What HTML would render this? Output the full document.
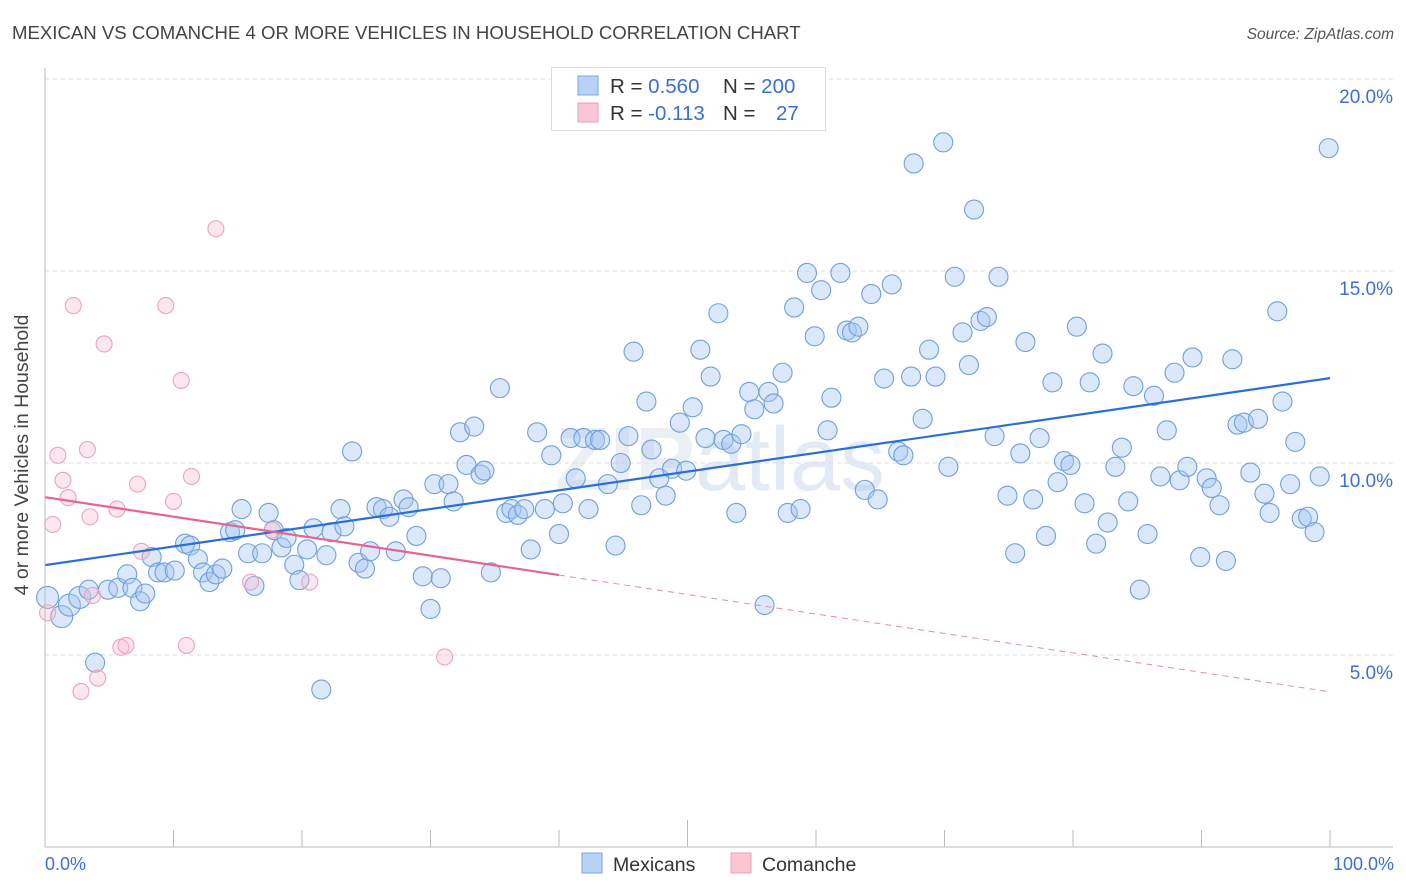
<!DOCTYPE html>
<html><head><meta charset="utf-8"><style>
body{margin:0;background:#fff;font-family:"Liberation Sans",sans-serif;}
#wrap{position:relative;width:1406px;height:892px;overflow:hidden;}
</style></head><body>
<div id="wrap">
<svg id="svg" width="1406" height="892" xmlns="http://www.w3.org/2000/svg">
<text x="12" y="39" font-size="18.6" fill="#444">MEXICAN VS COMANCHE 4 OR MORE VEHICLES IN HOUSEHOLD CORRELATION CHART</text>
<text x="1394" y="39" font-size="15.5" fill="#555" text-anchor="end" font-style="italic">Source: ZipAtlas.com</text>
<text x="720" y="490" font-size="90" fill="#eceff3" text-anchor="middle" font-weight="bold">ZIP<tspan font-weight="normal" fill="#e2eaf6">atlas</tspan></text>
<g id="grid"></g><g id="pts"></g><g id="lines"></g>
<line x1="45" y1="68" x2="45" y2="847" stroke="#bbb"/>
<line x1="45" y1="847" x2="1393" y2="847" stroke="#bbb"/>
<text x="28" y="455" font-size="19.5" fill="#444" text-anchor="middle" transform="rotate(-90 28 455)">4 or more Vehicles in Household</text>
<text x="45" y="870" font-size="18" fill="#3a70d4">0.0%</text>
<text x="1394" y="870" font-size="18" fill="#3a70d4" text-anchor="end">100.0%</text>
<g>
<rect x="551.5" y="67.5" width="274" height="63" fill="#fff" stroke="#ddd"/>
<rect x="578" y="76" width="20" height="19" fill="#b8d2f5" stroke="#7aa6e6"/>
<rect x="578" y="103" width="20" height="19" fill="#f9c6d4" stroke="#eba0b8"/>
<text x="610" y="93" font-size="20.5" fill="#333">R = <tspan fill="#3a70d4">0.560</tspan></text>
<text x="723" y="93" font-size="20.5" fill="#333">N = <tspan fill="#3a70d4">200</tspan></text>
<text x="610" y="120" font-size="20.5" fill="#333">R = <tspan fill="#3a70d4"> -0.113</tspan></text>
<text x="723" y="120" font-size="20.5" fill="#333">N = <tspan fill="#3a70d4" x="776">27</tspan></text>
</g>
<g>
<rect x="582" y="853" width="20" height="20" fill="#b8d2f5" stroke="#7aa6e6"/>
<text x="613" y="871" font-size="19.5" fill="#333">Mexicans</text>
<rect x="731" y="853" width="20" height="20" fill="#f9c6d4" stroke="#eba0b8"/>
<text x="762" y="871" font-size="19.5" fill="#333">Comanche</text>
</g>
</svg>
</div>
<script>
const blueX=[0.2,1.3,1.9,2.7,3.4,3.9,4.9,5.7,6.4,6.8,7.4,7.8,8.3,8.8,9.3,10.1,10.9,11.3,11.9,12.3,12.8,13.3,13.8,14.4,14.8,15.3,15.8,16.3,16.9,17.4,17.8,18.4,18.8,19.4,19.8,20.4,20.9,21.5,21.9,22.3,23.0,23.3,23.9,24.4,24.9,25.3,25.8,26.3,26.8,27.3,27.9,28.3,28.9,29.4,30.0,30.3,30.8,31.4,31.8,32.3,32.8,33.4,33.9,34.2,34.7,35.4,35.9,36.3,36.8,37.3,37.8,38.3,38.9,39.4,40.0,40.3,40.9,41.3,41.9,42.3,42.8,43.2,43.8,44.4,44.8,45.4,45.8,46.4,46.8,47.2,47.8,48.3,48.8,49.4,49.9,50.4,51.0,51.4,51.8,52.4,52.8,53.4,53.8,54.2,54.8,55.2,56.0,56.3,56.7,57.4,57.8,58.3,58.8,59.3,59.9,60.4,60.9,61.2,61.9,62.4,62.8,63.3,63.8,64.3,64.8,65.3,65.9,66.4,66.8,67.4,67.6,68.3,68.8,69.3,69.9,70.3,70.8,71.4,71.9,72.3,72.8,73.3,73.9,74.2,74.9,75.5,75.9,76.3,76.9,77.4,77.9,78.4,78.8,79.3,79.8,80.3,80.9,81.3,81.8,82.3,82.7,83.3,83.8,84.3,84.7,85.2,85.8,86.3,86.8,87.3,87.9,88.3,88.9,89.3,89.9,90.4,90.8,91.4,91.9,92.4,92.8,93.3,93.8,94.4,94.9,95.3,95.9,96.3,96.9,97.3,97.8,98.3,98.8,99.2,99.9];
const blueY=[6.5,6.0,6.3,6.5,6.7,4.8,6.7,6.75,7.1,6.75,6.4,6.6,7.55,7.15,7.15,7.2,7.9,7.85,7.5,7.15,6.9,7.1,7.25,8.2,8.25,8.8,7.65,6.8,7.65,8.7,8.25,7.8,8.05,7.35,6.95,7.75,8.3,4.1,7.6,8.2,8.8,8.35,10.3,7.4,7.25,7.7,8.85,8.8,8.6,7.7,9.05,8.85,8.1,7.05,6.2,9.45,7.0,9.45,9.0,10.8,9.95,10.95,9.7,9.8,7.15,11.95,8.7,8.8,8.65,8.8,7.75,10.8,8.8,10.2,8.15,8.95,10.65,9.6,10.65,8.8,10.6,10.6,9.45,7.85,10.0,10.7,12.9,8.9,11.6,10.35,9.6,9.15,9.85,11.05,9.8,11.45,12.95,10.65,12.25,13.9,10.6,10.5,8.7,10.75,11.85,11.4,6.3,11.85,11.55,12.35,8.7,14.05,8.8,14.95,13.3,14.5,10.85,11.7,14.95,13.45,13.4,13.55,9.3,14.4,9.05,12.2,14.65,10.3,10.2,12.25,17.8,11.15,12.95,12.25,18.35,9.9,14.85,13.4,12.55,16.6,13.7,13.8,10.7,14.85,9.15,7.65,10.25,13.15,9.05,10.65,8.1,12.1,9.5,10.05,9.95,13.55,8.95,12.1,7.9,12.85,8.45,9.9,10.4,9.0,12.0,6.7,8.15,11.75,9.65,10.85,12.35,9.55,9.9,12.75,7.55,9.6,9.35,8.9,7.45,12.7,11.0,11.05,9.75,11.15,9.2,8.7,13.95,11.6,9.45,10.55,8.55,8.6,8.2,9.65,18.2];
const pinkX=[0.2,0.6,1.0,1.4,1.8,2.2,2.8,3.3,3.5,3.7,4.1,4.6,5.6,5.9,6.3,7.2,7.5,9.4,10.0,10.6,11.0,11.4,13.3,16.0,17.7,20.6,31.1];
const pinkY=[6.1,8.4,10.2,9.55,9.1,14.1,4.05,10.35,8.6,6.55,4.4,13.1,8.8,5.2,5.25,9.45,7.7,14.1,9.0,12.15,5.25,9.65,16.1,6.9,8.25,6.9,4.95];
const blueTrend=[7.34,12.21];
const pinkTrend=[9.11,4.04];
const pinkSolidEnd=40;
const yTicks=[5,10,15,20];
const xTickVals=[10,20,30,40,50,60,70,80,90,100];
const NS="http://www.w3.org/2000/svg";
const sx=v=>45+v*12.85, sy=v=>847-v*38.4;
function mk(t,a,p){const e=document.createElementNS(NS,t);for(const k in a)e.setAttribute(k,a[k]);p.appendChild(e);return e;}
const grid=document.getElementById('grid'),pts=document.getElementById('pts'),lines=document.getElementById('lines');
yTicks.forEach(v=>{
 const l=mk('line',{x1:45,x2:1393,y1:sy(v),y2:sy(v),stroke:'#ddd','stroke-dasharray':'4,4'},grid);
 
 
 const t=mk('text',{x:1393,y:sy(v)+24,'font-size':19,fill:'#3a70d4','text-anchor':'end'},grid);
 t.textContent=v.toFixed(1)+'%';
 
 
});
xTickVals.forEach(v=>{
 const l=mk('line',{x1:sx(v),x2:sx(v),y1:v===50?820:830,y2:847,stroke:'#bbb'},grid);
 
 
});
blueX.forEach((x,i)=>{
 const c=mk('circle',{cx:sx(x),cy:sy(blueY[i]),r:(x<3?11:9.5),fill:'rgba(165,198,242,0.4)',stroke:'#6f9fe0','stroke-width':1.1},pts);
 
 
});
pinkX.forEach((x,i)=>{
 const c=mk('circle',{cx:sx(x),cy:sy(pinkY[i]),r:8,fill:'rgba(247,185,205,0.35)',stroke:'#eea3bb','stroke-width':1.1},pts);
 
 
});
const bl=mk('line',{x1:sx(0),y1:sy(blueTrend[0]),x2:sx(100),y2:sy(blueTrend[1]),stroke:'#2b6fd6','stroke-width':2.2},lines);


const pAt=x=>pinkTrend[0]+(pinkTrend[1]-pinkTrend[0])*x/100;
const pl=mk('line',{x1:sx(0),y1:sy(pAt(0)),x2:sx(pinkSolidEnd),y2:sy(pAt(pinkSolidEnd)),stroke:'#e5658f','stroke-width':2.2},lines);


const pd=mk('line',{x1:sx(pinkSolidEnd),y1:sy(pAt(pinkSolidEnd)),x2:sx(100),y2:sy(pAt(100)),stroke:'#e98aa8','stroke-width':1,'stroke-dasharray':'6,5'},lines);


</script>
</body></html>
